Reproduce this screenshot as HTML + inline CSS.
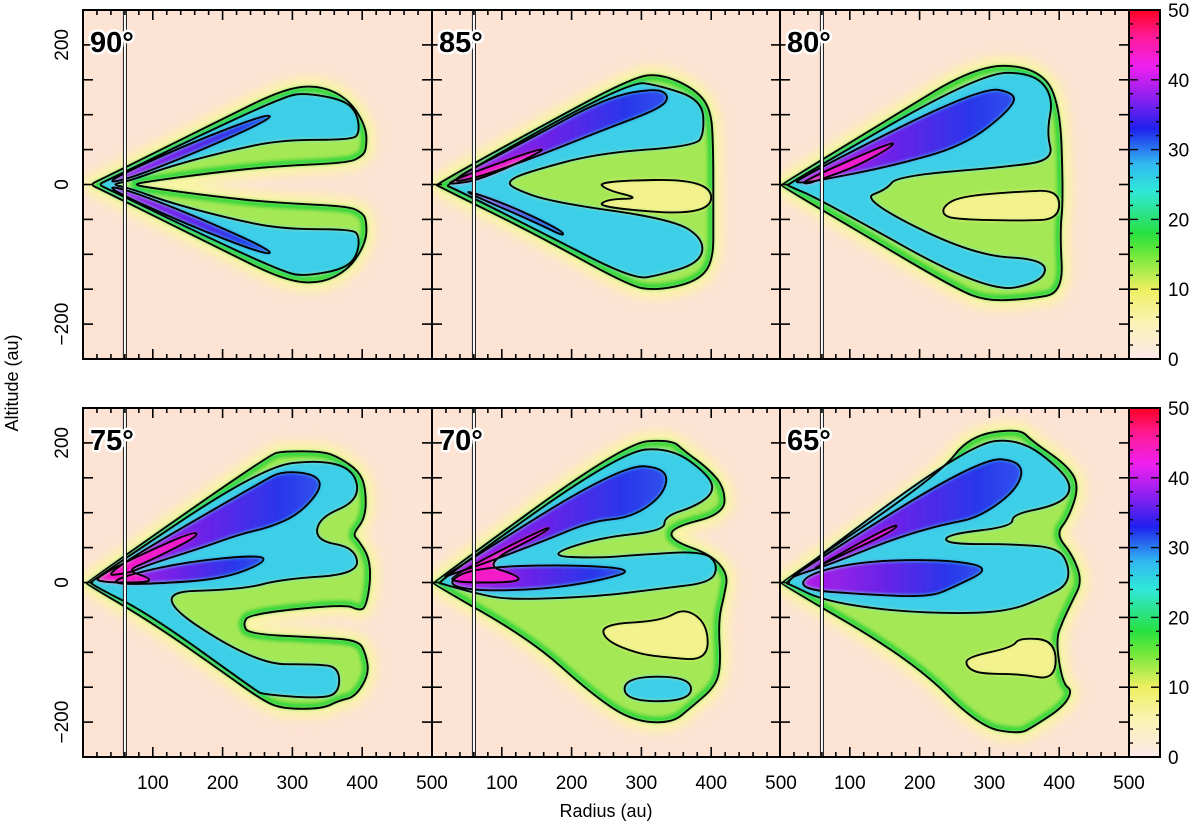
<!DOCTYPE html>
<html><head><meta charset="utf-8"><style>
html,body{margin:0;padding:0;background:#fff;}
svg{display:block;font-family:"Liberation Sans",sans-serif;}
</style></head>
<body>
<svg id="fig" width="1200" height="832" viewBox="0 0 1200 832">
<defs>
<filter id="blurS" x="-10%" y="-10%" width="120%" height="120%"><feGaussianBlur stdDeviation="1.8"/></filter>
<filter id="blurG" x="-20%" y="-20%" width="140%" height="140%"><feGaussianBlur stdDeviation="5"/></filter>
<linearGradient id="blueGrad" x1="0" y1="0" x2="1" y2="0">
<stop offset="0" stop-color="#b01ee6"/><stop offset="0.45" stop-color="#6a22e8"/><stop offset="0.8" stop-color="#2a36ea"/><stop offset="1" stop-color="#3050ee"/></linearGradient>
<linearGradient id="cbarGrad" x1="0" y1="1" x2="0" y2="0">
<stop offset="0" stop-color="#fde9ea"/><stop offset="0.1" stop-color="#fbf2b8"/><stop offset="0.2" stop-color="#eef060"/><stop offset="0.3" stop-color="#6ee83a"/><stop offset="0.36" stop-color="#28e040"/><stop offset="0.48" stop-color="#30e8d8"/><stop offset="0.56" stop-color="#30b8f0"/><stop offset="0.66" stop-color="#2020ee"/><stop offset="0.76" stop-color="#9a20f0"/><stop offset="0.84" stop-color="#f020f0"/><stop offset="0.93" stop-color="#ff1a90"/><stop offset="1" stop-color="#ff0020"/></linearGradient>
</defs>
<g id="panels"></g>
<g id="cbars"></g>
<text x="606" y="817" font-size="18" text-anchor="middle">Radius (au)</text>
<text transform="translate(18,383) rotate(-90)" font-size="18" text-anchor="middle">Altitude (au)</text>
</svg>
<script>
// ---- data (radius au, altitude au) ----
const xTicks=[100,200,300,400,500];
const yTicks=[200,0,-200];
const cbarTicks=[0,10,20,30,40,50];
const panelLabels=['90°','85°','80°','75°','70°','65°'];

const p90_outer=[[10,0],[25,7],[100,44],[200,94],[290,138],[341,142],[382,121],[406,82],[406,50],[399,40],[380,31],[271,26],[188,17],[98,5],[70,0],[98,-5],[188,-17],[271,-26],[380,-31],[399,-40],[406,-50],[406,-82],[382,-121],[341,-142],[290,-138],[200,-94],[100,-44],[25,-7]];
const p90_c20=[[22,0],[35,6],[150,62],[290,127],[320,131],[374,121],[393,102],[396,74],[386,64],[284,64],[207,48],[124,26],[66,5],[40,0],[66,-5],[124,-26],[207,-48],[284,-64],[386,-64],[396,-74],[393,-102],[374,-121],[320,-131],[290,-127],[150,-62],[35,-6]];
const p90_c30a=[[30,3],[150,58],[265,102],[270,94],[160,45],[60,6]];
const p90_c30b=[[30,-3],[150,-58],[265,-102],[270,-94],[160,-45],[60,-6]];

const p85_outer=[[6,0],[150,80],[290,155],[330,158],[378,136],[400,107],[403,50],[403,-45],[403,-112],[378,-140],[320,-152],[282,-145],[150,-72],[8,-2]];
const p85_hole=[[237,5],[400,8],[400,-45],[237,-33],[250,-21],[300,-20],[250,-8]];
const p85_c20=[[16,0],[282,148],[326,142],[387,121],[390,74],[378,55],[237,45],[134,17],[109,5],[115,-5],[170,-25],[346,-50],[390,-79],[384,-112],[326,-130],[288,-136],[150,-65],[30,-5]];
const p85_c30a=[[20,3],[130,60],[250,125],[320,138],[340,128],[330,110],[250,80],[150,40],[60,8]];
const p85_c30b=[[30,-3],[150,-55],[190,-75],[185,-65],[100,-25]];
const p85_c40=[[26,5],[154,52],[160,48],[70,7],[26,0]];

const p80_outer=[[2,0],[150,90],[282,171],[363,169],[401,126],[406,-21],[401,-69],[406,-155],[358,-164],[296,-167],[253,-150],[120,-72],[2,-2]];
const p80_hole=[[234,-31],[258,-17],[344,-10],[400,-8],[400,-50],[344,-52],[258,-50],[234,-45]];
const p80_c20=[[10,0],[287,160],[363,160],[392,126],[382,74],[392,36],[334,26],[167,12],[153,-7],[115,-21],[277,-102],[382,-107],[377,-140],[296,-155],[57,-21],[12,-2]];
const p80_c30=[[19,5],[287,140],[339,131],[330,107],[263,55],[158,26],[62,7],[29,2]];
const p80_c40=[[33,5],[162,62],[162,55],[110,26],[57,7],[36,0]];

const p75_outer=[[5,0],[267,183],[286,188],[343,188],[367,179],[395,160],[405,136],[405,93],[386,69],[395,60],[410,36],[412,2],[405,-36],[395,-40],[376,-31],[238,-45],[229,-60],[238,-74],[343,-79],[395,-83],[405,-102],[410,-131],[390,-164],[367,-169],[343,-181],[286,-181],[257,-169],[190,-121],[95,-55],[5,-2]];
const p75_c20=[[12,2],[257,166],[343,176],[390,160],[395,117],[338,93],[333,60],[390,50],[395,12],[286,5],[229,-10],[90,-14],[248,-117],[333,-117],[367,-121],[367,-160],[333,-166],[257,-160],[248,-155],[95,-45],[10,-2]];
const p75_c30a=[[24,10],[257,145],[286,160],[333,155],[343,136],[310,98],[267,79],[224,69],[171,50],[95,26],[62,12]];
const p75_c30b=[[60,10],[150,30],[257,40],[260,28],[200,5],[100,-2],[40,-2]];
const p75_c40=[[14,7],[157,74],[167,67],[95,31],[62,17],[95,7],[95,0],[29,0]];

const p70_outer=[[2,0],[276,200],[343,205],[362,188],[395,164],[419,136],[419,98],[343,79],[343,60],[400,40],[424,12],[419,-17],[410,-55],[414,-121],[405,-150],[371,-179],[343,-202],[286,-198],[229,-160],[143,-83],[2,-2]];
const p70_hole=[[243,-60],[329,-55],[362,-36],[395,-60],[395,-112],[333,-107],[295,-102],[248,-83]];
const p70_c20=[[7,0],[271,188],[343,193],[395,155],[405,131],[380,110],[333,95],[333,74],[238,64],[162,38],[238,35],[300,40],[390,45],[410,25],[400,0],[333,-8],[238,-20],[110,-25],[60,-15],[15,-2]];
const p70_c20b=[[276,-135],[371,-135],[371,-170],[276,-170]];
const p70_c30a=[[10,5],[271,169],[338,164],[333,126],[286,93],[229,88],[162,60],[71,26],[29,12]];
const p70_c30b=[[57,21],[190,26],[295,19],[238,2],[157,-10],[62,-12],[19,-2]];
const p70_c40=[[29,10],[167,81],[167,74],[71,26],[124,10],[124,0],[29,0]];

const p65_outer=[[2,0],[229,155],[271,210],[343,221],[362,202],[410,169],[429,140],[414,93],[395,69],[419,40],[433,2],[419,-26],[405,-55],[395,-83],[405,-145],[419,-155],[405,-179],[362,-207],[343,-217],[286,-207],[190,-112],[2,-2]];
const p65_hole=[[267,-107],[333,-93],[343,-79],[395,-83],[395,-140],[343,-131],[286,-131],[267,-121]];
const p65_c20=[[5,0],[271,198],[343,207],[405,160],[419,131],[395,110],[333,98],[333,80],[238,69],[238,55],[333,55],[400,50],[415,20],[410,-5],[380,-20],[333,-40],[260,-45],[150,-40],[60,-25],[15,-3]];
const p65_c30a=[[10,5],[286,179],[348,174],[343,136],[286,93],[233,83],[167,64],[71,26],[29,12]];
const p65_c30b=[[38,12],[119,31],[238,33],[305,21],[248,-7],[214,-21],[119,-17],[29,-10]];
const p65_c40=[[38,14],[167,86],[167,76],[71,31]];

const panels=[
 {outer:p90_outer,holes:[],c20:[p90_c20],c30:[p90_c30a,p90_c30b],c40:[]},
 {outer:p85_outer,holes:[p85_hole],c20:[p85_c20],c30:[p85_c30a,p85_c30b],c40:[p85_c40]},
 {outer:p80_outer,holes:[p80_hole],c20:[p80_c20],c30:[p80_c30],c40:[p80_c40]},
 {outer:p75_outer,holes:[],c20:[p75_c20],c30:[p75_c30a,p75_c30b],c40:[p75_c40]},
 {outer:p70_outer,holes:[p70_hole],c20:[p70_c20,p70_c20b],c30:[p70_c30a,p70_c30b],c40:[p70_c40]},
 {outer:p65_outer,holes:[p65_hole],c20:[p65_c20],c30:[p65_c30a,p65_c30b],c40:[p65_c40]}
];

// ---- layout ----
const NS='http://www.w3.org/2000/svg';
const X0=[83,432,780], Y0=[10,408], W=349;
const XMIN=0,XMAX=500,YMIN=-250,YMAX=250;
function sx(col,r){return X0[col]+(r-XMIN)/(XMAX-XMIN)*W;}
function sy(row,a){return Y0[row]+(YMAX-a)/(YMAX-YMIN)*W;}
function mk(tag,attrs,parent){const e=document.createElementNS(NS,tag);for(const k in attrs)e.setAttribute(k,attrs[k]);parent.appendChild(e);return e;}
function sp(col,row,arr){
  const P=arr.map(p=>[sx(col,p[0]),sy(row,p[1])]);
  const n=P.length;
  const mid=(a,b)=>[(a[0]+b[0])/2,(a[1]+b[1])/2];
  let m0=mid(P[n-1],P[0]);
  let d='M'+m0[0].toFixed(1)+','+m0[1].toFixed(1);
  for(let i=0;i<n;i++){
    const c=P[i], m=mid(P[i],P[(i+1)%n]);
    d+=' Q'+c[0].toFixed(1)+','+c[1].toFixed(1)+' '+m[0].toFixed(1)+','+m[1].toFixed(1);
  }
  return d+'Z';
}

const root=document.getElementById('panels');
panels.forEach((P,i)=>{
  const col=i%3,row=Math.floor(i/3);
  const g=mk('g',{},root);
  
  
  const cp=mk('clipPath',{id:'cp'+i},g);
  mk('rect',{x:X0[col],y:Y0[row],width:W,height:W},cp);
  const inner=mk('g',{'clip-path':'url(#cp'+i+')'},g);
  const bg=mk('rect',{x:X0[col],y:Y0[row],width:W,height:W,fill:'#fde3d3'},inner);
  
  
  const op=sp(col,row,P.outer);
  const glow=mk('path',{d:op,fill:'#f7f292',stroke:'#f9f4a6','stroke-width':18,'stroke-linejoin':'round',filter:'url(#blurG)'},inner);
  
  
  const fills=mk('g',{filter:'url(#blurS)'},inner);
  const ocp=mk('clipPath',{id:'ocp'+i},g);
  mk('path',{d:op},ocp);
  const f10=mk('path',{d:op,fill:'#a4e955'},fills);
  
  
  mk('path',{d:op,fill:'none',stroke:'#2cd63a','stroke-width':12,'clip-path':'url(#ocp'+i+')'},fills);
  P.holes.forEach(h=>{
    const e=mk('path',{d:sp(col,row,h),fill:'#f3f28e'},fills);
    
    
  });
  P.c20.forEach(c=>{
    const e=mk('path',{d:sp(col,row,c),fill:'#3ecfe8'},fills);
    
    
  });
  P.c30.forEach(c=>{
    const e=mk('path',{d:sp(col,row,c),fill:'url(#blueGrad)'},fills);
    
    
  });
  P.c40.forEach(c=>{
    const e=mk('path',{d:sp(col,row,c),fill:'#f51cc8'},fills);
    
    
  });
  [P.outer].concat(P.holes,P.c20,P.c30,P.c40).forEach(c=>{
    const e=mk('path',{d:sp(col,row,c),fill:'none',stroke:'#000','stroke-width':1.9,'stroke-linejoin':'round'},inner);
    
    
  });
  const vx=sx(col,60);
  const vl=mk('rect',{x:vx-1.5,y:Y0[row],width:3,height:W,fill:'#fff',stroke:'#000','stroke-width':0.9},inner);
  
  
  const fr=mk('rect',{x:X0[col],y:Y0[row],width:W,height:W,fill:'none',stroke:'#000','stroke-width':2},g);
  
  
  for(let r=20;r<500;r+=20){
    const L=(r%100===0)?10:5, x=sx(col,r);
    mk('line',{x1:x,y1:Y0[row]+W,x2:x,y2:Y0[row]+W-L,stroke:'#000','stroke-width':1.6},g);
    mk('line',{x1:x,y1:Y0[row],x2:x,y2:Y0[row]+L,stroke:'#000','stroke-width':1.6},g);
  }
  for(let a=-200;a<=200;a+=50){
    const y=sy(row,a);
    mk('line',{x1:X0[col],y1:y,x2:X0[col]+10,y2:y,stroke:'#000','stroke-width':1.6},g);
    mk('line',{x1:X0[col]+W,y1:y,x2:X0[col]+W-10,y2:y,stroke:'#000','stroke-width':1.6},g);
  }
  const t=mk('text',{x:X0[col]+7,y:Y0[row]+42,'font-size':29,'font-weight':'bold',stroke:'#fff','stroke-width':5,'paint-order':'stroke','stroke-linejoin':'round'},g);
  t.textContent=panelLabels[i];
  
  
  if(row===1){
    xTicks.forEach(v=>{
      const e=mk('text',{x:sx(col,v),y:789,'font-size':19,'text-anchor':'middle'},g);
      e.textContent=v;
      
      
    });
  }
  if(col===0){
    yTicks.forEach(v=>{
      const y=sy(row,v);
      const e=mk('text',{transform:'translate(68,'+y+') rotate(-90)','font-size':19,'text-anchor':'middle'},g);
      e.textContent=v<0?'\u2212'+(-v):String(v);
      
      
    });
  }
});

const cb=document.getElementById('cbars');
[0,1].forEach(row=>{
  const g=mk('g',{},cb);
  
  
  const x=1129,w=31,y=Y0[row];
  mk('rect',{x:x,y:y,width:w,height:W,fill:'url(#cbarGrad)',stroke:'#000','stroke-width':2},g);
  for(let v=2;v<50;v+=2){
    const yy=y+W-(v/50)*W, L=(v%10===0)?9:4;
    mk('line',{x1:x,y1:yy,x2:x+L,y2:yy,stroke:'#000','stroke-width':1.4},g);
    mk('line',{x1:x+w,y1:yy,x2:x+w-L,y2:yy,stroke:'#000','stroke-width':1.4},g);
  }
  cbarTicks.forEach(v=>{
    const yy=y+W-(v/50)*W;
    const e=mk('text',{x:1168,y:yy+7,'font-size':19},g);
    e.textContent=v;
    
    
  });
});
</script>
</body></html>
